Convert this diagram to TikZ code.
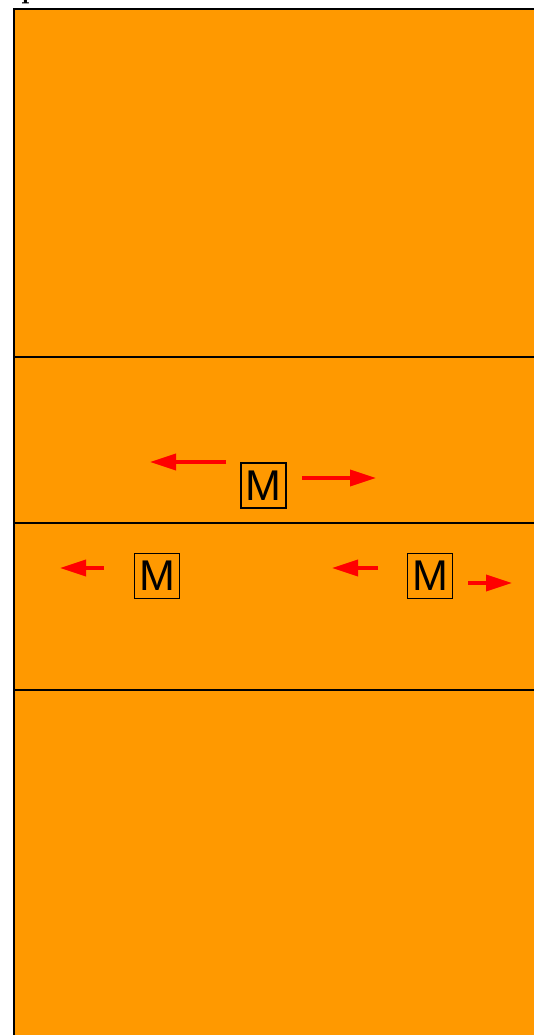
\documentclass[tikz,border=0pt]{standalone}
\usepackage{fontspec}
\newfontfamily\labelfont{Liberation Sans}
\usetikzlibrary{arrows.meta}
\definecolor{slab}{RGB}{255,153,0}
\definecolor{push}{RGB}{255,0,0}
\tikzset{
  layer/.style={draw=black, line width=1.8pt},
  mbox/.style={draw=black, line width=1.6pt, minimum width=45pt, minimum height=45pt,
    inner sep=0pt, font=\labelfont\fontsize{43}{43}\selectfont},
  motion/.style={draw=push, line width=3.5pt, -{Triangle[length=26pt,width=16pt]}}
}
\begin{document}
\begin{tikzpicture}[x=1pt, y=-1pt]
  \useasboundingbox (0,0) rectangle (533,1035);
  % heading, mostly above the frame
  \node[anchor=base west, inner sep=0pt, font=\fontsize{28}{30}\selectfont\bfseries] (title) at (21,-1.5) {p};
  % the slab and its layer boundaries
  \fill[slab] (14,9) rectangle (545,1045);
  \draw[layer] (545,9) -- (14,9) -- (14,1045);
  \coordinate (l1a) at (14,357);  \coordinate (l1b) at (545,357);
  \coordinate (l2a) at (14,523);  \coordinate (l2b) at (545,523);
  \coordinate (l3a) at (14,690);  \coordinate (l3b) at (545,690);
  \draw[layer] (l1a) -- (l1b);
  \draw[layer] (l2a) -- (l2b);
  \draw[layer] (l3a) -- (l3b);
  % markers
  \node[mbox] (m1) at (263.5,485.5) {M};
  \node[mbox] (m2) at (157,576) {M};
  \node[mbox] (m3) at (430,576) {M};
  % motion arrows
  \coordinate (a1s) at (226,462); \coordinate (a1e) at (150,462);
  \coordinate (a2s) at (302,478); \coordinate (a2e) at (376,478);
  \coordinate (a3s) at (104,568); \coordinate (a3e) at (60,568);
  \coordinate (a4s) at (378,568); \coordinate (a4e) at (332,568);
  \coordinate (a5s) at (468,583); \coordinate (a5e) at (512,583);
  \draw[motion] (a1s) -- (a1e);
  \draw[motion] (a2s) -- (a2e);
  \draw[motion] (a3s) -- (a3e);
  \draw[motion] (a4s) -- (a4e);
  \draw[motion] (a5s) -- (a5e);
\end{tikzpicture}
\end{document}
